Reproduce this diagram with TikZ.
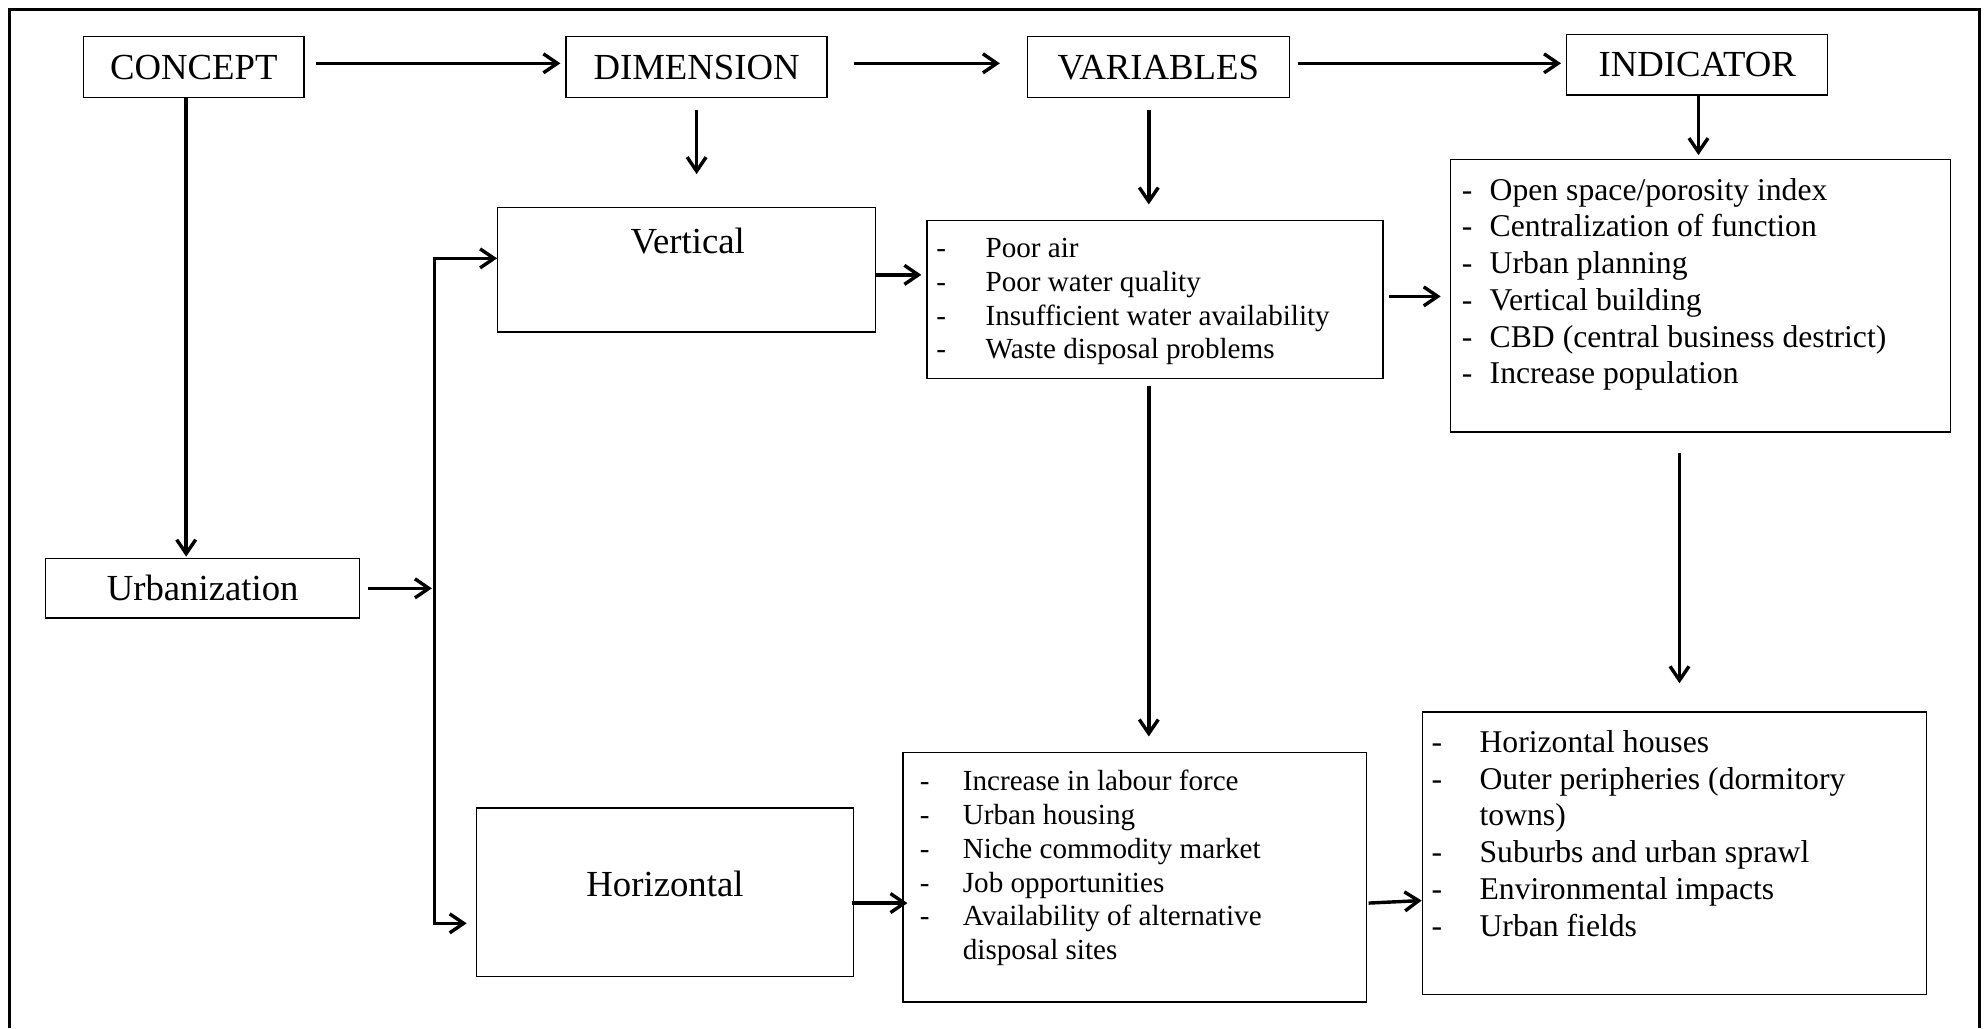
\documentclass[tikz,border=0pt]{standalone}
\usepackage{fontspec}
\setmainfont{Liberation Serif}
\usetikzlibrary{arrows.meta,calc}
\begin{document}
\begin{tikzpicture}[x=1pt,y=-1pt,
  box/.style={draw, line width=1.1pt, inner sep=0pt},
  head/.style={font=\fontsize{29}{33}\selectfont},
  lista/.style={anchor=base west, inner sep=0pt, font=\fontsize{23}{26.6}\selectfont},
  listb/.style={anchor=base west, inner sep=0pt, font=\fontsize{25}{29}\selectfont},
  arr/.style={line width=2.7pt, -{Straight Barb[length=11pt,width=15pt]}},
  plain/.style={line width=2.7pt}]
\useasboundingbox (0,0) rectangle (1568,812);
% frame
\draw[line width=2pt] (7.4,812) -- (7.4,7.3) -- (1563,7.3) -- (1563,812);

% header boxes
\node[box, head, minimum width=174pt, minimum height=48pt] (concept) at (153,53) {CONCEPT};
\node[box, head, minimum width=206pt, minimum height=48pt] (dimension) at (550,53) {DIMENSION};
\node[box, head, minimum width=207pt, minimum height=48pt] (variables) at (914.5,53) {VARIABLES};
\node[box, head, minimum width=206pt, minimum height=48pt] (indicator) at (1340,51) {INDICATOR};

% dimension boxes
\node[box, minimum width=298pt, minimum height=98pt] (vert) at (542,213) {};
\node[head, inner sep=0pt] (vertlbl) at (543,190) {Vertical};
\node[box, minimum width=298pt, minimum height=133pt] (horiz) at (525,704.5) {};
\node[head, inner sep=0pt] (horizlbl) at (525,698) {Horizontal};
\node[box, head, minimum width=248pt, minimum height=47pt] (urb) at (160,464.5) {Urbanization};

% variable boxes
\node[box, minimum width=360pt, minimum height=125pt] (vtop) at (912,236.5) {};
\node[lista] (vtoptxt) at (739,203.5) {\begin{tabular}[t]{@{}p{39pt}@{}l@{}}
-&Poor air\\
-&Poor water quality\\
-&Insufficient water availability\\
-&Waste disposal problems\end{tabular}};
\node[box, minimum width=366pt, minimum height=197pt] (vbot) at (896,692.5) {};
\node[lista] (vbottxt) at (726,624.5) {\begin{tabular}[t]{@{}p{34pt}@{}l@{}}
-&Increase in labour force\\
-&Urban housing\\
-&Niche commodity market\\
-&Job opportunities\\
-&Availability of alternative\\
&disposal sites\end{tabular}};

% indicator boxes
\node[box, minimum width=395pt, minimum height=215pt] (itop) at (1342.5,233.5) {};
\node[listb] (itoptxt) at (1154,158) {\begin{tabular}[t]{@{}p{22pt}@{}l@{}}
-&Open space/porosity index\\
-&Centralization of function\\
-&Urban planning\\
-&Vertical building\\
-&CBD (central business destrict)\\
-&Increase population\end{tabular}};
\node[box, minimum width=398pt, minimum height=223pt] (ibot) at (1322,673.5) {};
\node[listb] (ibottxt) at (1130,594) {\begin{tabular}[t]{@{}p{38pt}@{}l@{}}
-&Horizontal houses\\
-&Outer peripheries (dormitory\\
&towns)\\
-&Suburbs and urban sprawl\\
-&Environmental impacts\\
-&Urban fields\end{tabular}};

% bracket points
\coordinate (bt) at (343,204);
\coordinate (bb) at (343,729);

% top row arrows
\draw[arr, shorten <=9pt, shorten >=4pt] ($(concept.east)+(0,-3)$) -- ($(dimension.west)+(0,-3)$);
\draw[arr, shorten <=21pt, shorten >=21pt] ($(dimension.east)+(0,-3)$) -- ($(variables.west)+(0,-3)$);
\draw[arr, shorten <=6pt, shorten >=4pt] ($(variables.east)+(0,-3)$) -- ($(indicator.west)+(0,-1)$);

% down arrows from headers
\draw[arr, shorten <=9pt, shorten >=26pt] (dimension.south) -- (dimension.south |- vert.north);
\draw[arr, shorten <=9pt, shorten >=12pt] ($(variables.south)+(-7.5,0)$) -- ($(vtop.north)+(-5,0)$);
\draw[arr, shorten >=3pt] ($(indicator.south)+(1,0)$) -- ($(itop.north)+(-1.5,0)$);
\draw[arr, shorten >=1pt] ($(concept.south)+(-6,0)$) -- ($(urb.north)+(-13,0)$);

% urbanization to bracket
\draw[arr, shorten <=6pt, shorten >=2pt] (urb.east) -- (urb.east -| bt);
\draw[plain] (bb) -- (bt);
\draw[arr] ($(bt)+(-1.35,0)$) -- (bt -| vert.west);
\draw[arr, shorten >=7pt] ($(bb)+(-1.35,0)$) -- (bb -| horiz.west);

% middle arrows
\draw[arr, shorten >=4pt] ($(vert.east)+(0,4)$) -- ($(vert.east -| vtop.west)+(0,4)$);
\draw[arr, shorten <=4pt, shorten >=7pt] ($(vtop.east)+(0,-2.5)$) -- ($(vtop.east -| itop.west)+(0,-2.5)$);
\draw[arr, shorten <=5pt, shorten >=12pt] ($(vtop.south)+(-5,0)$) -- ($(vbot.north)+(11,0)$);
\draw[arr, shorten <=16pt, shorten >=22pt] ($(itop.south)+(-16.5,0)$) -- ($(ibot.north)+(4,0)$);

% bottom arrows
\draw[arr] ($(horiz.east)+(-2,8.5)$) -- ($(horiz.east -| vbot.west)+(4,8.5)$);
\draw[arr] ($(vbot.east)+(1,20.5)$) -- ($(ibot.west)+(0,37.5)$);
\end{tikzpicture}
\end{document}
